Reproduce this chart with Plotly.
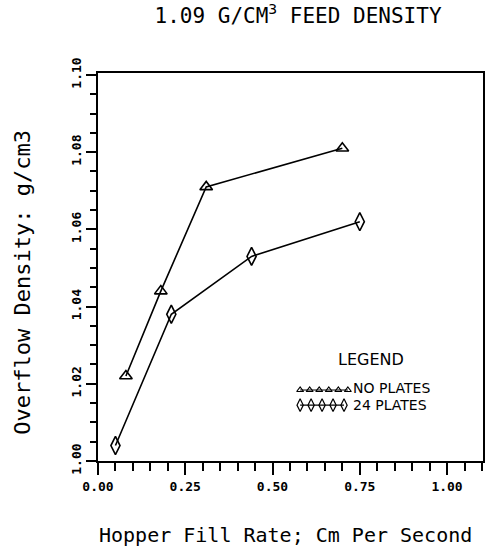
import plotly.graph_objects as go
import numpy as np

# Data
no_plates_x = [0.08, 0.18, 0.31, 0.70]
no_plates_y = [1.022, 1.044, 1.071, 1.081]
plates24_x = [0.05, 0.21, 0.44, 0.75]
plates24_y = [1.004, 1.038, 1.053, 1.062]

x_ticks = [0.00, 0.25, 0.50, 0.75, 1.00]
x_tick_labels = ["0.00", "0.25", "0.50", "0.75", "1.00"]
y_ticks = [1.00, 1.02, 1.04, 1.06, 1.08, 1.10]
y_tick_labels = ["1.00", "1.02", "1.04", "1.06", "1.08", "1.10"]

title_text = "1.09 G/CM<sup>3</sup> FEED DENSITY"
x_title = "Hopper Fill Rate; Cm Per Second"
y_title = "Overflow Density: g/cm3"
legend_title = "LEGEND"
series_names = ["NO PLATES", "24 PLATES"]

MONO = "DejaVu Sans Mono"
fig = go.Figure()

fig.add_trace(go.Scatter(
    x=no_plates_x, y=no_plates_y, mode="lines+markers",
    line=dict(color="black", width=1.6),
    marker=dict(symbol="triangle-up-open", size=11, color="black", line=dict(width=1.6)),
    showlegend=False, name=series_names[0]))
fig.add_trace(go.Scatter(
    x=plates24_x, y=plates24_y, mode="lines+markers",
    line=dict(color="black", width=1.6),
    marker=dict(symbol="diamond-tall-open", size=13, color="black", line=dict(width=1.6)),
    showlegend=False, name=series_names[1]))

# Legend samples on an overlay axis (fractions of the plot area)
leg_x0, leg_x1 = 0.525, 0.649
leg_rows = [0.183, 0.144]
fig.add_trace(go.Scatter(
    x=list(np.linspace(leg_x0, leg_x1, 6)), y=[leg_rows[0]] * 6,
    xaxis="x2", yaxis="y2", mode="lines+markers",
    line=dict(color="black", width=1.2),
    marker=dict(symbol="triangle-up-open", size=6, color="black", line=dict(width=1.2)),
    showlegend=False, hoverinfo="skip"))
fig.add_trace(go.Scatter(
    x=list(np.linspace(leg_x0, leg_x1 - 0.01, 5)), y=[leg_rows[1]] * 5,
    xaxis="x2", yaxis="y2", mode="lines+markers",
    line=dict(color="black", width=1.2),
    marker=dict(symbol="diamond-tall-open", size=9, color="black", line=dict(width=1.2)),
    showlegend=False, hoverinfo="skip"))

fig.update_layout(
    width=487, height=552,
    margin=dict(l=98, r=4, t=73, b=91, autoexpand=False),
    paper_bgcolor="white", plot_bgcolor="white",
    font=dict(family=MONO, color="black"),
    title=dict(text=title_text, x=0.612, xanchor="center", y=0.972, yanchor="middle",
               font=dict(family=MONO, size=21, color="black")),
    xaxis=dict(
        range=[0, 1.103], showgrid=False, zeroline=False, automargin=False,
        showline=True, linecolor="black", linewidth=2, mirror=True,
        ticks="outside", ticklen=12, tickwidth=2, tickcolor="black",
        tickvals=x_ticks, ticktext=x_tick_labels,
        tickfont=dict(family=MONO, size=13, weight="bold"),
        minor=dict(dtick=0.05, ticks="outside", ticklen=8, tickwidth=2, tickcolor="black"),
    ),
    yaxis=dict(
        range=[1.0, 1.1005], showgrid=False, zeroline=False, automargin=False,
        showline=True, linecolor="black", linewidth=2, mirror=True,
        ticks="outside", ticklen=10, tickwidth=2, tickcolor="black",
        tickvals=y_ticks, ticktext=y_tick_labels, tickangle=-90,
        tickfont=dict(family=MONO, size=13, weight="bold"),
        minor=dict(dtick=0.005, ticks="outside", ticklen=6, tickwidth=2, tickcolor="black"),
    ),
    xaxis2=dict(range=[0, 1], overlaying="x", visible=False, fixedrange=True),
    yaxis2=dict(range=[0, 1], overlaying="y", visible=False, fixedrange=True),
    annotations=[
        dict(text=x_title, xref="paper", yref="paper", x=0.486, y=-0.19,
             showarrow=False, xanchor="center", yanchor="middle",
             font=dict(family=MONO, size=20, color="black")),
        dict(text=y_title, xref="paper", yref="paper", x=-0.197, y=0.46, textangle=-90,
             showarrow=False, xanchor="center", yanchor="middle",
             font=dict(family=MONO, size=22, color="black")),
        dict(text=legend_title, xref="x2", yref="y2", x=0.71, y=0.262,
             showarrow=False, xanchor="center", yanchor="middle",
             font=dict(family="DejaVu Sans", size=16, color="black")),
        dict(text=series_names[0], xref="x2", yref="y2", x=0.657, y=leg_rows[0] + 0.004,
             showarrow=False, xanchor="left", yanchor="middle",
             font=dict(family="DejaVu Sans", size=14, color="black")),
        dict(text=series_names[1], xref="x2", yref="y2", x=0.657, y=leg_rows[1],
             showarrow=False, xanchor="left", yanchor="middle",
             font=dict(family="DejaVu Sans", size=14, color="black")),
    ],
)

fig.write_html("out.html", config={"displayModeBar": False},
               post_script="document.body.style.margin='0';document.body.style.overflow='hidden';")
